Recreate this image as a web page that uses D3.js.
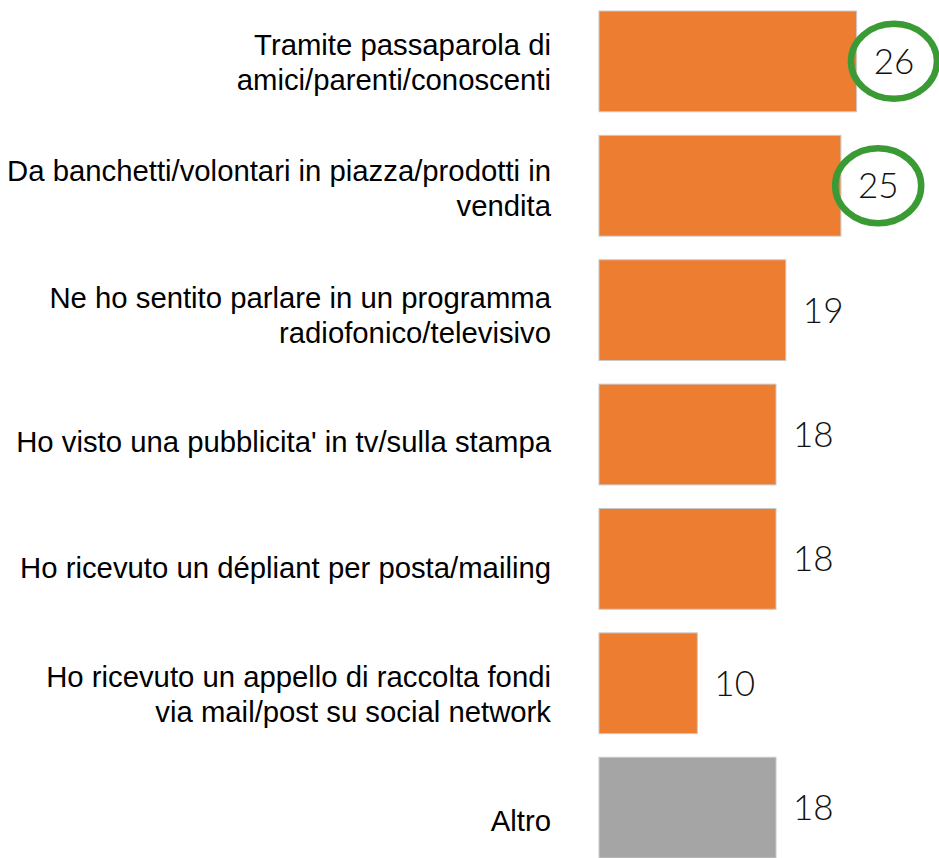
<!DOCTYPE html>
<html>
<head>
<meta charset="utf-8">
<script src="https://cdn.jsdelivr.net/npm/d3@7"></script>
<style>
    html, body { margin: 0; padding: 0; background: #fff; }
    svg { display: block; }
    .cat-label { font-family: "Liberation Sans", Arial, sans-serif; font-size: 29.3px; fill: #000; }
    .val-label { font-family: Lato, "DejaVu Sans", sans-serif; font-size: 35px; font-weight: 300; fill: #111; }
</style>
</head>
<body>
<svg id="chart"></svg>
<script>
// Data
const categories = [
    "passaparola",
    "banchetti",
    "radio/tv",
    "pubblicita",
    "depliant",
    "appello online",
    "altro"
];
const categoryLines = [
    ["Tramite passaparola di", "amici/parenti/conoscenti"],
    ["Da banchetti/volontari in piazza/prodotti in", "vendita"],
    ["Ne ho sentito parlare in un programma", "radiofonico/televisivo"],
    ["Ho visto una pubblicita' in tv/sulla stampa"],
    ["Ho ricevuto un dépliant per posta/mailing"],
    ["Ho ricevuto un appello di raccolta fondi", "via mail/post su social network"],
    ["Altro"]
];
const values = [26.2, 24.6, 19.0, 18.0, 18.0, 10.0, 18.0];
const highlighted = ["passaparola", "banchetti"];
const otherCategory = "altro";

const width = 939;
const height = 858;

const svg = d3.select('#chart')
    .attr('width', width)
    .attr('height', height);

// Scales
const x = d3.scaleLinear()
    .domain([0, 30])
    .range([599, 894]);

const y = d3.scaleBand()
    .domain(categories)
    .range([11, 858])
    .paddingInner(0.19)
    .paddingOuter(0);

// the category text boxes are spaced a little wider than the bars
const yLabel = d3.scalePoint()
    .domain(categories)
    .range([62, 820]);

const data = categories.map((c, i) => ({ key: c, lines: categoryLines[i], value: values[i] }));

// Bars
svg.append('g')
    .selectAll('rect')
    .data(data)
    .enter().append('rect')
    .attr('x', x(0))
    .attr('y', d => y(d.key))
    .attr('width', d => x(d.value) - x(0))
    .attr('height', y.bandwidth())
    .attr('fill', d => d.key === otherCategory ? '#A5A5A5' : '#ED7D31')
    .attr('stroke', '#c9c9c9')
    .attr('stroke-width', 1);

// Category labels (right aligned, may wrap on two lines)
const lineHeight = 35;
const capHalf = 10.5;
const labels = svg.append('g')
    .selectAll('text')
    .data(data)
    .enter().append('text')
    .attr('class', 'cat-label')
    .attr('text-anchor', 'end');

labels.each(function(d) {
    const t = d3.select(this);
    const first = yLabel(d.key) - (d.lines.length - 1) * lineHeight / 2 + capHalf;
    d.lines.forEach((line, i) => {
        t.append('tspan')
            .attr('x', 551)
            .attr('y', first + i * lineHeight)
            .text(line);
    });
});

// Value labels
const fmt = d3.format('.0f');
const valueLabels = svg.append('g')
    .selectAll('text')
    .data(data)
    .enter().append('text')
    .attr('class', 'val-label')
    .attr('x', d => x(d.value) + 17)
    .attr('y', d => y(d.key) + y.bandwidth() / 2)
    .attr('dy', '0.36em')
    .text(d => fmt(d.value));

// Green rings around the highlighted values
const ringLayer = svg.append('g');
valueLabels.filter(d => highlighted.includes(d.key)).each(function(d) {
    const box = this.getBBox();
    ringLayer.append('ellipse')
        .attr('cx', box.x + box.width / 2)
        .attr('cy', y(d.key) + y.bandwidth() / 2)
        .attr('rx', 43)
        .attr('ry', 37.5)
        .attr('fill', 'none')
        .attr('stroke', '#3A9B35')
        .attr('stroke-width', 6.5);
});
</script>
</body>
</html>
